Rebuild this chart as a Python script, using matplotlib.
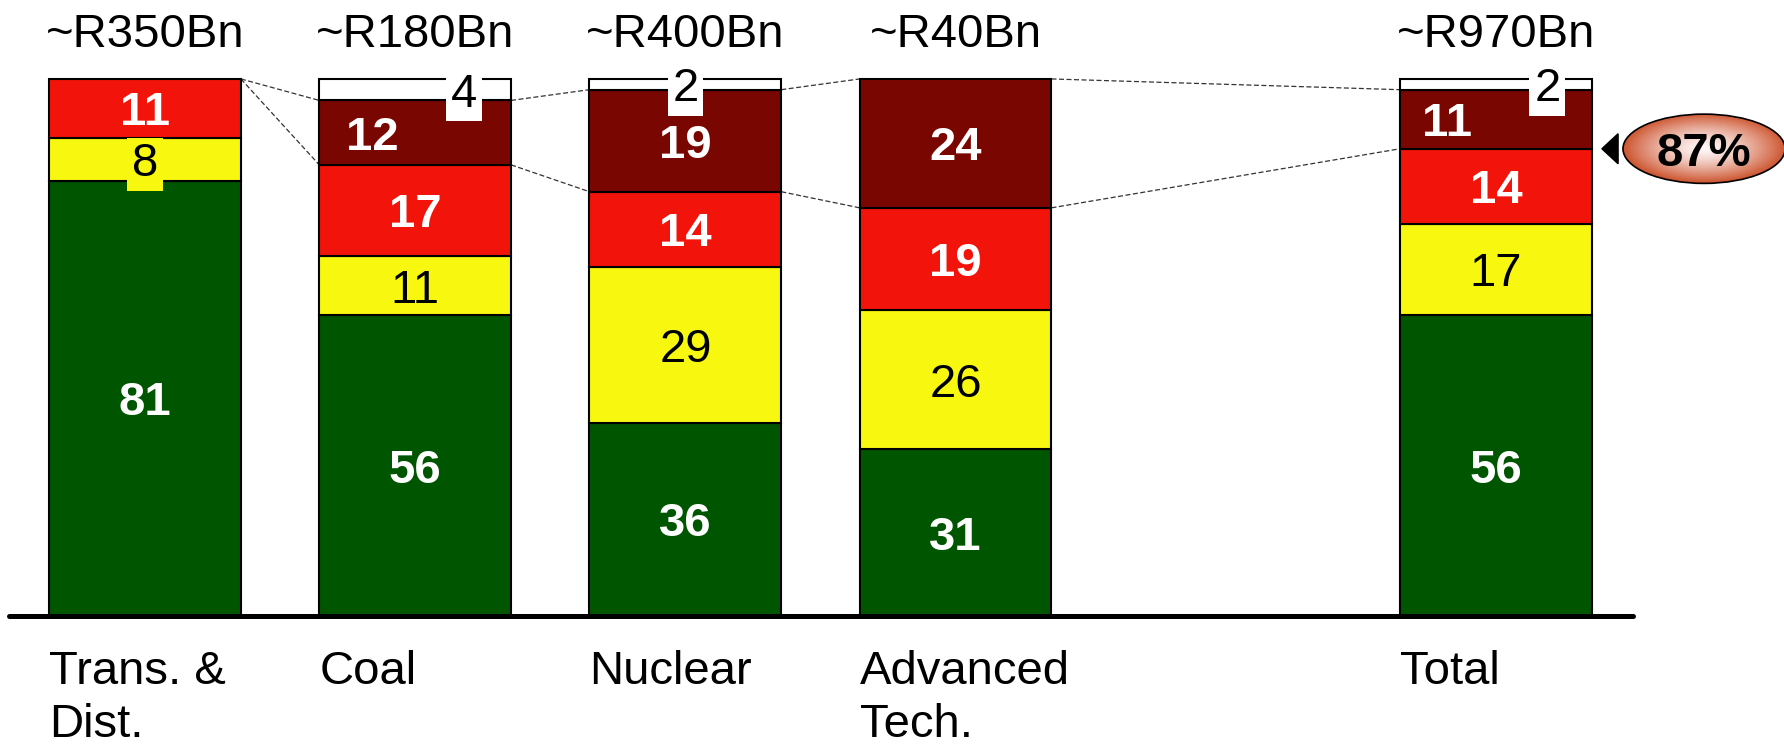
import numpy as np
import matplotlib
matplotlib.use("Agg")
import matplotlib.pyplot as plt
from matplotlib.patches import Ellipse, Polygon

plt.rcParams['font.family'] = ['Liberation Sans', 'DejaVu Sans']

# ---- data -------------------------------------------------------------
categories = ["Trans. &\nDist.", "Coal", "Nuclear", "Advanced\nTech.", "Total"]
positions = [0, 1, 2, 3, 5]
sizes = ["~R350Bn", "~R180Bn", "~R400Bn", "~R40Bn", "~R970Bn"]
green = [81, 56, 36, 31, 56]
yellow = [8, 11, 29, 26, 17]
red = [11, 17, 14, 19, 14]
dark_red = [0, 12, 19, 24, 11]
white = [0, 4, 2, 0, 2]
highlight_share = 87  # green + yellow + red share of the total bar

# ---- styling ----------------------------------------------------------
FS = 34
BAR_W = 0.71
LINE_STEP = 10.0  # baseline-to-baseline distance of category lines
layers = [
    # values, fill, text colour, weight
    (green, "#005500", "white", "bold"),
    (yellow, "#f7f70f", "black", "normal"),
    (red, "#f2140a", "white", "bold"),
    (dark_red, "#7a0600", "white", "bold"),
    (white, "white", "black", "normal"),
]
# labels that spill past a thin segment get a backing box of its colour
boxed = {(0, 1), (1, 4), (2, 4), (4, 4)}
# horizontal nudges for labels that sit beside the centre line
label_dx = {(1, 3): -0.16, (1, 4): 0.18, (4, 3): -0.18, (4, 4): 0.19}

fig = plt.figure(figsize=(17.84, 7.47), dpi=100)
ax = fig.add_axes([0, 0, 1, 1])
ax.axis('off')

cap_half = 0.716 * FS / 2  # half the digit height, in points

for i, x in enumerate(positions):
    bottom = 0
    for k, (vals, fc, tc, wt) in enumerate(layers):
        v = vals[i]
        if v <= 0:
            continue
        ax.bar(x, v, bottom=bottom, width=BAR_W, color=fc,
               edgecolor="black", linewidth=1.5, zorder=2)
        kw = {}
        if (i, k) in boxed:
            kw["bbox"] = dict(boxstyle="square,pad=0.1", fc=fc, ec="none")
        ax.annotate(str(v), xy=(x + label_dx.get((i, k), 0), bottom + v / 2),
                    xytext=(0, -cap_half), textcoords="offset points",
                    ha="center", va="baseline", fontsize=FS, color=tc,
                    fontweight=wt, zorder=5, **kw)
        bottom += v
    # bar size above, category name below
    ax.text(x, 106.0, sizes[i], ha="center", va="baseline", fontsize=FS,
            color="black")
    for n, line in enumerate(categories[i].split("\n")):
        ax.text(x - BAR_W / 2, -12.6 - n * LINE_STEP, line, ha="left",
                va="baseline", fontsize=FS, color="black")

# dashed connectors between the dark-red segments of neighbouring bars
def dark_bounds(i):
    lo = green[i] + yellow[i] + red[i]
    return lo, lo + dark_red[i]

for i in range(len(positions) - 1):
    a_lo, a_hi = dark_bounds(i)
    b_lo, b_hi = dark_bounds(i + 1)
    x0 = positions[i] + BAR_W / 2
    x1 = positions[i + 1] - BAR_W / 2
    for ya, yb in ((a_hi, b_hi), (a_lo, b_lo)):
        ax.plot([x0, x1], [ya, yb], color="#333333", lw=0.9,
                linestyle=(0, (4, 2)), zorder=1)

# baseline
ax.plot([-0.503, 5.507], [0, 0], color="black", lw=3.6,
        solid_capstyle="round", zorder=6)

# highlight bubble for the total bar
cx, cy = 5.77, highlight_share
ew, eh = 0.60, 12.9
ell = Ellipse((cx, cy), ew, eh, facecolor="none", edgecolor="black",
              lw=1.2, zorder=4)
ax.add_patch(ell)
u = np.linspace(-1, 1, 320)
v = np.linspace(-1, 1, 140)
U, V = np.meshgrid(u, v)
R = np.clip(np.sqrt(U ** 2 + V ** 2), 0, 1)
inner = np.array([1.0, 0.97, 0.97])
outer = np.array([0.80, 0.33, 0.18])
t = R ** 1.4
img = inner + (outer - inner) * t[..., None]
im = ax.imshow(img, extent=(cx - ew / 2, cx + ew / 2, cy - eh / 2, cy + eh / 2),
               aspect="auto", zorder=3, interpolation="bilinear")
im.set_clip_path(ell)
ax.annotate(f"{highlight_share}%", xy=(cx, cy), xytext=(0, -cap_half),
            textcoords="offset points", ha="center", va="baseline",
            fontsize=FS, fontweight="bold", color="black", zorder=5)
ax.add_patch(Polygon([(5.392, cy), (5.452, cy + 2.8), (5.452, cy - 2.8)],
                     closed=True, color="black", zorder=5))

ax.set_xlim(-0.5366, 6.066)
ax.set_ylim(-24.4, 114.7)

fig.savefig("out.png", dpi=100)
